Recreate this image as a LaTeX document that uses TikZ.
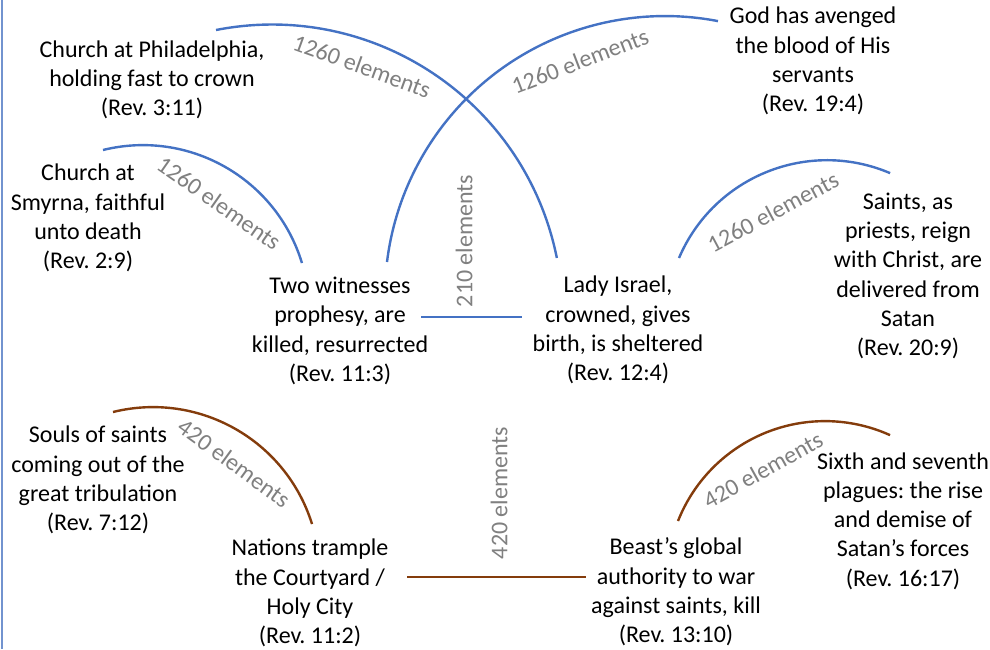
\documentclass[tikz,border=0pt]{standalone}
\usepackage{fontspec}
\setmainfont{Carlito}
\frenchspacing
\definecolor{arcblue}{HTML}{4472C4}
\definecolor{arcbrown}{HTML}{843C0C}
\definecolor{lblgray}{HTML}{808080}
\definecolor{edgeblue}{RGB}{114,147,207}
\tikzset{
  txt/.style={align=center, inner sep=0pt, font=\fontsize{24}{29.3}\selectfont\frenchspacing, text=black},
  lbl/.style={inner sep=0pt, font=\fontsize{24}{29.3}\selectfont, text=lblgray},
  bluearc/.style={draw=arcblue, line width=2.4pt},
  brownarc/.style={draw=arcbrown, line width=2.4pt}
}
\begin{document}
\begin{tikzpicture}[x=1pt,y=1pt]
\useasboundingbox (0,0) rectangle (990,-649);
\fill[white] (0,0) rectangle (990,-649);
\coordinate (edgetop) at (1.5,0);
\coordinate (edgebot) at (1.5,-649);
\draw[edgeblue, line width=2pt] (edgetop) -- (edgebot);

% text nodes
\node[txt] (phil) at (152,-80) {Church at Philadelphia,\\holding fast to crown\\(Rev. 3:11)};
\node[txt] (smyrna) at (88,-218) {Church at\\Smyrna, faithful\\unto death\\(Rev. 2:9)};
\node[txt] (twow) at (340,-331) {Two witnesses\\prophesy, are\\killed, resurrected\\(Rev. 11:3)};
\node[txt] (lady) at (618,-330) {Lady Israel,\\crowned, gives\\birth, is sheltered\\(Rev. 12:4)};
\node[txt] (god) at (813,-61) {God has avenged\\the blood of His\\servants\\(Rev. 19:4)};
\node[txt] (saints) at (908,-276) {Saints, as\\priests, reign\\with Christ, are\\delivered from\\Satan\\(Rev. 20:9)};
\node[txt] (souls) at (98,-480) {Souls of saints\\coming out of the\\great tribulation\\(Rev. 7:12)};
\node[txt] (nations) at (310,-593) {Nations trample\\the Courtyard /\\Holy City\\(Rev. 11:2)};
\node[txt] (beast) at (676,-592) {Beast’s global\\authority to war\\against saints, kill\\(Rev. 13:10)};
\node[txt] (sixth) at (903,-521) {Sixth and seventh\\plagues: the rise\\and demise of\\Satan’s forces\\(Rev. 16:17)};

% arc end points
\coordinate (philA) at (216,-30);
\coordinate (ladyA) at (557,-258);
\coordinate (twowA) at (387,-262);
\coordinate (godA) at (718,-21);
\coordinate (smyrnaA) at (103,-150);
\coordinate (twowB) at (302,-263);
\coordinate (ladyB) at (679,-258);
\coordinate (saintsA) at (890,-173);
\coordinate (soulsA) at (113,-412);
\coordinate (nationsA) at (312,-524);
\coordinate (beastA) at (678,-521);
\coordinate (sixthA) at (890,-435);
\coordinate (twowC) at (421,-317);
\coordinate (ladyC) at (522,-317);
\coordinate (nationsC) at (407,-577);
\coordinate (beastC) at (586,-577);

% arcs
\draw[bluearc] (philA) arc[start angle=101.1, end angle=11.35, radius=290.6];
\draw[bluearc] (twowA) arc[start angle=173.0, end angle=79.1, radius=280.1];
\draw[bluearc] (smyrnaA) arc[start angle=103.9, end angle=16.9, radius=166.2];
\draw[bluearc] (ladyB) arc[start angle=156.9, end angle=66.9, radius=160.9];
\draw[brownarc] (soulsA) arc[start angle=103.9, end angle=17.36, radius=166.6];
\draw[brownarc] (beastA) arc[start angle=158.4, end angle=65.7, radius=158.1];
\draw[bluearc] (twowC) -- (ladyC);
\draw[brownarc] (nationsC) -- (beastC);

% labels
\node[lbl, rotate=-20] (l1) at (362,-66) {1260 elements};
\node[lbl, rotate=21] (l2) at (580,-61) {1260 elements};
\node[lbl, rotate=-35] (l3) at (219,-203) {1260 elements};
\node[lbl, rotate=28] (l4) at (773,-212) {1260 elements};
\node[lbl, rotate=90] (l5) at (464,-241) {210 elements};
\node[lbl, rotate=-36] (l6) at (234,-463) {420 elements};
\node[lbl, rotate=90] (l7) at (499,-493) {420 elements};
\node[lbl, rotate=29] (l8) at (763,-470) {420 elements};
\end{tikzpicture}
\end{document}
